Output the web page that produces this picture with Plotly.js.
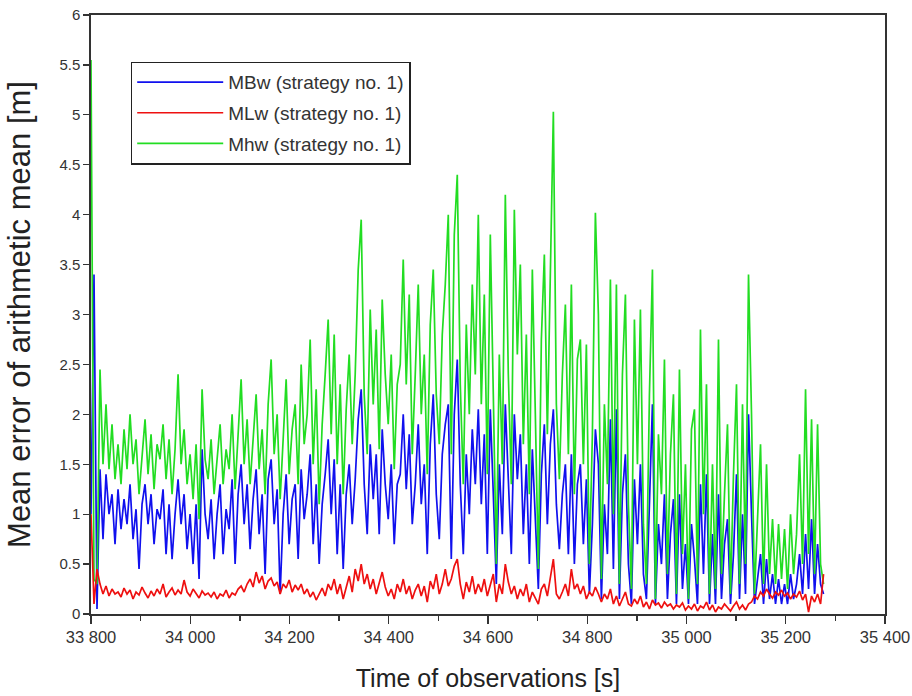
<!DOCTYPE html>
<html>
<head>
<meta charset="utf-8">
<script src="https://cdn.plot.ly/plotly-3.0.1.min.js"></script>
<style>html,body{margin:0;padding:0;background:#fff;}#chart{width:912px;height:696px;}</style>
</head>
<body>
<div id="chart"></div>
<script>
// Sampling grid of observations (seconds)
var T0 = 33800;
var DT = 6.05;

// Series names
var seriesNames = ["MBw (strategy no. 1)", "MLw (strategy no. 1)", "Mhw (strategy no. 1)"];

// Mean error values [m]
var mbw = [
1.0, 3.4, 0.05, 1.45, 0.75, 1.4, 1.0, 1.2, 0.7, 1.25,
0.85, 1.15, 0.9, 1.3, 0.75, 1.05, 0.45, 1.1, 1.3, 0.9,
1.2, 0.7, 1.05, 0.95, 1.25, 0.6, 1.1, 0.55, 1.0, 1.35,
0.9, 1.2, 0.65, 1.0, 0.5, 1.1, 0.35, 1.65, 1.0, 0.75,
1.15, 0.55, 1.0, 1.3, 0.6, 1.05, 0.85, 1.35, 0.5, 1.2,
1.5, 0.9, 1.3, 0.65, 1.15, 1.45, 0.8, 1.2, 0.4, 1.35,
1.55, 0.9, 1.25, 0.2, 1.0, 1.4, 0.7, 1.15, 1.3, 0.55,
1.45, 0.95, 1.2, 1.6, 0.7, 1.3, 0.5, 1.1, 1.4, 1.75,
1.0, 1.55, 0.6, 1.3, 0.45, 1.2, 1.5, 0.9, 1.35, 1.95,
2.25, 1.3, 0.8, 1.7, 1.15, 1.6, 0.8, 1.85, 1.3, 0.95,
1.5, 0.7, 1.3, 1.4, 2.0, 1.25, 1.8, 0.9, 1.3, 1.9,
1.1, 1.5, 0.6, 1.7, 2.2, 1.2, 0.75, 1.6, 1.9, 2.1,
0.55, 2.0, 2.55, 1.3, 0.6, 1.6, 1.0, 1.85, 1.3, 2.05,
1.1, 1.8, 0.6, 2.05, 1.2, 0.3, 1.5, 0.8, 2.1, 1.3,
0.6, 2.0, 1.35, 1.8, 0.8, 1.5, 0.5, 1.65, 1.0, 0.25,
1.4, 1.9, 0.9, 1.7, 2.05, 1.1, 0.65, 1.2, 1.5, 0.6,
1.6, 0.5, 1.3, 1.5, 0.7, 1.35, 0.2, 0.9, 1.85, 1.5,
0.15, 1.1, 0.6, 1.95, 0.45, 2.05, 0.15, 1.2, 1.6, 0.5,
0.1, 1.35, 0.7, 1.5, 0.4, 0.15, 1.1, 2.1, 0.1, 0.9,
0.5, 1.2, 0.15, 0.8, 1.15, 0.1, 1.2, 0.25, 0.7, 0.1,
0.9, 0.55, 0.1, 1.3, 0.4, 1.4, 0.1, 0.8, 0.1, 1.2,
0.15, 0.7, 0.95, 0.1, 0.6, 1.4, 0.15, 1.0, 0.2, 2.0,
1.0, 0.1, 0.35, 0.6, 0.1, 0.55, 0.15, 0.4, 0.1, 0.35,
0.1, 0.3, 0.1, 0.4, 0.15, 0.3, 0.6, 0.2, 0.8, 0.25,
0.95, 0.2, 0.7, 0.3, 0.2
];

var mlw = [
1.0, 0.1, 0.45, 0.3, 0.2, 0.28, 0.18, 0.25, 0.2, 0.22,
0.17, 0.26, 0.2, 0.24, 0.15, 0.22, 0.19, 0.27, 0.21, 0.16,
0.23, 0.18, 0.25, 0.2, 0.3, 0.17, 0.22, 0.26, 0.19, 0.24,
0.2, 0.34, 0.22, 0.18, 0.25, 0.2, 0.16, 0.23, 0.19, 0.21,
0.17, 0.22, 0.15, 0.2, 0.18, 0.24, 0.16, 0.21, 0.19, 0.25,
0.28, 0.22, 0.3, 0.35, 0.27, 0.42, 0.31, 0.38, 0.25, 0.33,
0.36, 0.28, 0.32, 0.2, 0.3, 0.26, 0.34, 0.22, 0.29, 0.24,
0.3, 0.2, 0.25, 0.17, 0.22, 0.14, 0.2, 0.26, 0.18, 0.3,
0.24, 0.35, 0.2, 0.3, 0.15, 0.28, 0.38, 0.22, 0.45, 0.33,
0.5, 0.3, 0.4, 0.25, 0.35, 0.2, 0.3, 0.42, 0.27, 0.18,
0.25, 0.15, 0.3, 0.22, 0.35, 0.2, 0.28, 0.15, 0.24, 0.3,
0.18, 0.28, 0.12, 0.33, 0.25, 0.4, 0.2, 0.3, 0.45, 0.28,
0.35, 0.48, 0.55, 0.3, 0.15, 0.32, 0.22, 0.38, 0.2, 0.3,
0.22, 0.35, 0.18, 0.28, 0.4, 0.12, 0.3, 0.2, 0.5, 0.32,
0.2, 0.28, 0.15, 0.25, 0.18, 0.3, 0.12, 0.22, 0.16, 0.1,
0.25, 0.3, 0.18, 0.35, 0.55, 0.2, 0.15, 0.22, 0.3, 0.18,
0.45, 0.25, 0.3, 0.2, 0.28, 0.15, 0.22, 0.18, 0.27, 0.2,
0.12, 0.2, 0.15, 0.25, 0.1, 0.18, 0.08, 0.15, 0.22, 0.1,
0.08, 0.15, 0.1, 0.18, 0.07, 0.12, 0.05, 0.14, 0.09, 0.11,
0.06, 0.12, 0.08, 0.1, 0.05, 0.09, 0.07, 0.11, 0.04, 0.08,
0.05, 0.1, 0.03, 0.08, 0.06, 0.12, 0.04, 0.09, 0.02, 0.07,
0.05, 0.1, 0.06, 0.03, 0.08, 0.12, 0.05, 0.09, 0.04, 0.1,
0.12, 0.18, 0.15, 0.22, 0.18, 0.25, 0.2, 0.16, 0.22, 0.19,
0.24, 0.18, 0.21, 0.15, 0.2, 0.17, 0.23, 0.14, 0.2, 0.02,
0.18, 0.12, 0.2, 0.1, 0.4
];

var mhw = [
5.55, 0.35, 0.3, 2.45, 1.5, 2.1, 1.45, 1.9, 1.35, 1.7,
1.3, 1.85, 1.45, 2.0, 1.5, 1.75, 1.2, 1.6, 1.95, 1.4,
1.8, 1.25, 1.7, 1.55, 1.9, 1.35, 1.75, 1.2, 1.65, 2.4,
1.5, 1.85, 1.3, 1.6, 1.15, 1.7, 0.95, 2.25, 1.55, 1.35,
1.75, 1.2, 1.6, 1.9, 1.3, 1.65, 1.45, 2.0, 1.25, 1.8,
2.35, 1.5, 1.95, 1.3, 1.8, 2.2, 1.45, 1.85, 1.2, 2.1,
2.55, 1.6, 2.0, 1.15, 1.75, 2.35, 1.4, 1.85, 2.1, 1.3,
2.5, 1.7, 2.0, 2.75, 1.5, 2.25, 1.1, 1.9, 2.4, 2.95,
1.8, 2.8, 1.5, 2.3, 1.2, 2.05, 2.6, 1.7, 2.4, 3.45,
3.95, 2.2, 1.6, 3.05, 2.1, 2.85, 1.65, 3.15, 2.4, 1.9,
2.6, 1.45, 2.3, 2.5, 3.55, 2.3, 3.2, 1.6, 2.4, 3.3,
2.0, 2.6, 1.4, 2.9, 3.45, 2.2, 1.7, 2.8, 3.3, 4.0,
1.6, 3.8, 4.4, 2.3, 1.3, 2.9, 2.0, 3.3, 2.4, 4.0,
2.1, 3.2, 1.4, 3.8, 2.2, 0.5, 2.6, 1.5, 4.2, 2.4,
1.3, 4.05, 2.6, 3.5, 1.7, 2.8, 1.2, 3.45, 2.0, 0.45,
2.75, 3.6, 1.8, 3.4, 5.03, 2.1, 1.35, 2.4, 3.1, 1.6,
3.3, 1.2, 2.55, 2.75, 1.5, 2.7, 0.5, 1.8, 4.02, 3.0,
0.35, 2.1, 1.3, 3.35, 1.0, 3.3, 0.3, 2.4, 3.2, 1.1,
0.25, 2.95, 1.5, 3.05, 0.9, 0.3, 2.2, 3.45, 0.15, 1.8,
1.2, 2.55, 0.4, 1.6, 2.2, 0.2, 2.45, 0.6, 1.5, 0.15,
1.85, 2.05, 0.3, 2.85, 1.0, 2.3, 0.2, 1.5, 0.25, 2.75,
0.4, 1.2, 1.9, 0.2, 1.4, 2.3, 0.3, 2.1, 0.5, 3.4,
2.0, 0.2, 0.9, 1.7, 0.3, 1.5, 0.4, 0.95, 0.3, 0.9,
0.35, 0.85, 0.25, 1.0, 0.4, 0.8, 1.6, 0.5, 2.25, 0.6,
1.95, 0.4, 1.9, 0.5, 0.3
];

var times = [];
for (var i = 0; i < mhw.length; i++) times.push(T0 + DT * i);

var traces = [
  {x: times, y: mbw, type: 'scatter', mode: 'lines', name: seriesNames[0],
   line: {color: '#1010ee', width: 1.7}, legendrank: 1, legendgroup: 'a'},
  {x: times, y: mhw, type: 'scatter', mode: 'lines', name: seriesNames[2],
   line: {color: '#22dd22', width: 1.7}, legendrank: 3, legendgroup: 'c'},
  {x: times, y: mlw, type: 'scatter', mode: 'lines', name: seriesNames[1],
   line: {color: '#ee1010', width: 1.7}, legendrank: 2, legendgroup: 'b'}
];

var FAM = 'Liberation Sans, Arial, sans-serif';

var layout = {
  width: 912, height: 696,
  margin: {l: 91, r: 27, t: 15, b: 82},
  paper_bgcolor: '#fff', plot_bgcolor: '#fff',
  separators: '. ',
  showlegend: true,
  legend: {
    x: 0.05, y: 0.922, xanchor: 'left', yanchor: 'top',
    bordercolor: '#222', borderwidth: 1.5, bgcolor: '#fff',
    font: {family: FAM, size: 19, color: '#333'},
    itemwidth: 86, tracegroupgap: 3, traceorder: 'grouped'
  },
  xaxis: {
    range: [33800, 35400], dtick: 200, tick0: 33800, tickformat: ',d',
    ticklabeloverflow: 'allow',
    ticks: 'outside', ticklen: 8, tickwidth: 1.3, tickcolor: '#333',
    minor: {dtick: 100, ticks: 'outside', ticklen: 5, tickwidth: 1.3, tickcolor: '#333', showgrid: false},
    showline: true, linecolor: '#333', linewidth: 1.6, mirror: true,
    showgrid: false, zeroline: false,
    tickfont: {family: FAM, size: 16.5, color: '#333'},
    title: {text: 'Time of observations [s]', font: {family: FAM, size: 25, color: '#222'}, standoff: 24}
  },
  yaxis: {
    range: [0, 6], dtick: 0.5, tick0: 0,
    ticks: 'outside', ticklen: 6, tickwidth: 1.3, tickcolor: '#333',
    showline: true, linecolor: '#333', linewidth: 1.6, mirror: true,
    showgrid: false, zeroline: false,
    tickfont: {family: FAM, size: 15, color: '#333'},
    title: {text: 'Mean error of arithmetic mean [m]', font: {family: FAM, size: 31, color: '#222'}, standoff: 19}
  }
};

Plotly.newPlot('chart', traces, layout, {displayModeBar: false, staticPlot: true});
</script>
</body>
</html>
